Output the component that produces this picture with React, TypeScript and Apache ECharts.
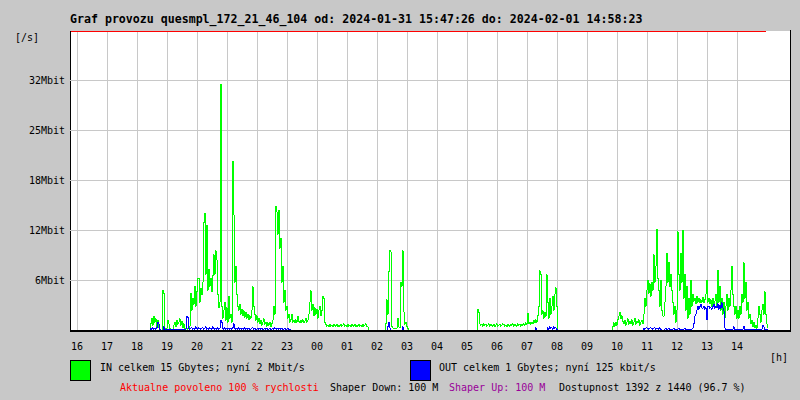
import React, { useEffect, useRef } from "react";
import * as echarts from "echarts";

// ---- data (Mbit/s), one sample every 2 minutes ----
const STEP_MIN = 2;
const xTickLabels = ["16","17","18","19","20","21","22","23","00","01","02","03","04","05","06","07","08","09","10","11","12","13","14"];
const yTickLabels = ["", "6Mbit", "12Mbit", "18Mbit", "25Mbit", "32Mbit", ""];
const Y_STEP = 6.25;
const Y_MAX = 37.5;
const RANGE_START = "15:46";
const DATA_END = "14:58";

const inEveningStart = "18:18";
const inEvening = [
  0,0,0,0,
  0.8,1.5,0.6,1.7,1.0,1.4,0.5,1.2,0.3,0.1,
  0,0,5.0,4.6,0.2,0,0.2,1.2,0.8,0.2,
  0.1,0.1,0.1,0.6,1.0,0.4,1.2,0.7,1.0,1.4,
  0.6,1.1,0.3,0.8,0.2,0.1,0.2,0.1,0.3,0.5,
  4.6,2.5,4.0,3.2,5.5,3.0,4.8,6.4,6.5,3.5,
  5.2,4.4,6.0,13.4,14.6,7.0,13.1,5.0,7.6,5.5,
  6.5,4.8,6.8,9.4,7.0,9.9,8.8,4.5,2.8,3.5,
  30.7,3.0,1.5,2.5,3.5,1.2,2.8,1.0,4.2,1.5,
  2.0,1.0,21.1,14.4,6.0,8.0,4.5,3.0,2.5,3.2,
  2.0,2.6,1.8,2.4,1.6,2.2,1.5,2.0,1.3,1.8,
  1.5,2.5,5.4,3.0,2.0,1.2,1.8,1.0,1.5,0.8,
  1.2,0.6,1.0,1.4,0.7,1.0,0.5,0.9,0.6,1.0,
  0.4,0.8,1.2,3.0,2.0,15.5,14.8,12.0,15.0,10.2,
  11.5,6.0,8.0,3.5,5.0,2.5,3.0,1.5,2.0,1.0,
  1.3,2.0,1.0,1.2,0.9,1.3,1.0,1.7,1.1,0.9,
  1.2,1.0,1.3,0.9,1.1,1.5,1.0,1.2,2.0,3.5,
  4.9,2.5,3.2,1.8,2.8,2.0,2.6,1.5,2.5,3.0,
  1.8,2.4,4.2,4.0,1.0,0.7,0.5,0.6,0.4,0.7,
  0.5,0.6,0.4,0.7,0.6,0.5,0.7,0.4,0.6,0.5,
  0.7,0.5,0.6,0.8,0.5,0.6,0.4,0.7,0.5,0.6,
  0.4,0.7,0.6,0.5,0.7,0.4,0.6,0.5,0.7,0.5,
  0.6,0.4,0.7,0.5,0.6,0.8,0.5,0.4,0,0,
  0,0,0,0,0,0,0,0,0,0,
  0,0,0,0,0,0.8,3.8,2.0,7.3,10.0,
  9.8,0.5,0.3,0.2,0.2,0.2,0.2,1.5,0.4,0.3,
  6.0,5.5,9.9,2.3,0.7,1.0,0.5,0.2,0,0,
  0,
];

const inMorningStart = "05:14";
const inMorning = [
  0,0,0,
  2.6,2.2,0.8,
  0.6,0.7,0.5,0.8,0.6,0.7,0.5,0.6,0.8,0.5,
  0.7,0.6,0.5,0.7,0.4,0.6,0.8,0.5,0.6,0.7,
  0.5,0.6,0.8,0.7,0.5,0.6,0.4,0.7,0.6,0.5,
  0.7,0.6,0.8,0.5,0.7,0.6,0.5,0.8,0.6,0.7,
  0.5,0.7,0.6,0.8,0.6,0.9,0.7,2.1,0.8,1.0,
  0.7,1.0,0.8,1.2,0.9,1.3,1.0,1.8,2.9,7.4,
  7.0,2.0,2.4,1.5,2.2,1.7,6.9,3.5,1.5,4.0,
  2.0,3.0,4.2,2.5,4.5,5.3,3.0,0,0,0,
];

const inDayStart = "09:46";
const inDay = [
  0,0,
  0.4,0.9,0.5,1.0,0.6,1.3,1.7,2.2,
  1.4,1.8,1.1,0.8,1.2,0.6,1.0,1.4,0.7,1.1,
  0.8,1.3,0.6,1.0,1.5,0.7,1.1,0.9,1.3,0.6,
  1.0,1.2,0.8,2.0,4.0,3.0,5.0,6.2,4.6,5.8,
  4.2,6.0,5.0,9.4,6.0,8.0,12.6,6.5,5.0,3.0,
  6.2,2.5,1.8,1.7,3.5,5.5,9.6,6.0,8.5,5.4,
  7.0,5.0,3.5,2.0,3.0,1.0,2.5,12.3,7.0,5.0,
  9.6,6.0,12.5,4.0,7.0,2.5,5.5,1.5,4.0,2.0,
  6.2,3.0,4.5,3.6,4.0,3.3,4.2,3.5,4.0,3.4,
  3.8,3.5,4.1,3.4,3.8,4.5,6.2,3.5,4.0,3.3,
  3.8,3.0,4.0,3.2,3.6,4.5,3.0,7.5,3.5,5.5,
  2.5,4.0,2.0,3.5,1.5,3.0,4.5,2.5,4.0,3.0,
  5.0,8.0,4.5,3.0,2.0,3.0,1.5,2.5,1.5,3.0,
  2.0,4.5,3.5,8.4,4.0,6.0,2.5,3.5,1.5,2.0,
  0.8,1.2,0.4,1.0,0.3,0.6,0.2,1.5,3.0,2.0,
  1.0,2.5,3.2,2.0,4.8,2.0,0.8,0.3,
];

const outEveningStart = "18:18";
const outEvening = [
  0,0,0,0,
  0.2,0.1,0.3,0.1,0.2,0.1,0.3,1.0,0.8,0.1,
  0,0,0,0.4,0.1,0,0.1,0,0.1,0,
  0.1,0,0.1,0,0.1,0.1,0,0.1,0,0.1,
  0,0.1,0,0.1,0,0.1,1.7,1.6,0.2,0.1,
  0.2,0.3,0.1,0.2,0.1,0.4,0.2,0.1,0.3,0.2,
  0.1,0.2,0.3,0.1,0.2,0.4,0.1,0.2,0.1,0.3,
  0.2,0.1,0.4,0.2,0.1,0.2,0.1,0.3,0.1,0.2,
  1.2,1.0,0.2,0.1,0.3,0.1,0.2,0.1,0.2,0.1,
  0.2,0.1,0.3,0.8,0.2,0.1,0.2,0.1,0.3,0.1,
  0.2,0.1,0.2,0.1,0.3,0.1,0.2,0.1,0.2,0.1,
  0.1,0.2,0.3,0.1,0.2,0.1,0.1,0.2,0.1,0.2,
  0.1,0.2,0.1,0.1,0.2,0.1,0.2,0.1,0.1,0.2,
  0.1,0.1,0.2,0.1,0.3,0.2,0.1,0.2,0.1,0.2,
  0.1,0.2,0.1,0.1,0.2,0.1,0.1,0.2,0.1,0.1,
  0,0,0,
];

const outNightStart = "02:14";
const outNight = [0,0,0,0.4,1.0,0.3,0,0,0,0,0,0,0,0,0,0,0,0,0.4,0,0,0];

const outMorningStart = "07:06";
const outMorning = [
  0,0,0,0,0,0.3,0,0,0,0,
  0,0,0,0,0,0,0,0.3,0.1,0.4,
  0.2,0.3,0.1,0.4,0.2,0.3,0.1,0,0,0,
];

const outDayStart = "10:46";
const outDay = [
  0,0,0,0.2,0.1,0.2,0.3,0.2,0.1,0.2,
  0.3,0.2,0.1,0.2,0.3,0.1,0.2,0.2,0.1,0.3,
  0.1,0,0,0,0.1,0.2,0.1,0.1,0.2,0.1,
  0.1,0.1,0.1,0.2,0.1,0.1,0.1,0.1,0.2,0.1,
  0.1,0.1,0.1,0.1,0.2,0.1,0.1,0.1,0.1,0.1,
  0.1,0.1,0.2,0.8,1.7,2.0,2.5,3.0,2.6,2.9,
  3.2,2.8,2.7,3.0,2.6,2.8,1.3,2.9,3.0,2.7,
  2.8,2.6,2.9,3.2,2.7,3.0,2.8,3.3,2.6,3.1,
  2.7,3.4,2.8,2.4,0.3,0.1,0.1,0.1,0.1,0.1,
  0.1,0.1,0.1,0.4,0.1,0.1,0.1,0.1,0.1,0.1,
  0.1,0.1,0.1,0.5,0.1,0.1,0.1,0.1,0.1,0.1,
  0.1,0.1,0.1,0.1,0.1,0.1,0.1,0.1,0.1,0.1,
  0.1,0.1,0.6,0.4,0.1,0.1,0.1,0,
];

const titleText = "Graf provozu quesmpl_172_21_46_104 od: 2024-01-31 15:47:26 do: 2024-02-01 14:58:23";
const inLegend = "IN celkem 15 Gbytes; nyní 2 Mbit/s";
const outLegend = "OUT celkem 1 Gbytes; nyní 125 kbit/s";
const footerParts = [
  { text: "Aktualne povoleno 100 % rychlosti", color: "#ff0000" },
  { text: "Shaper Down: 100 M", color: "#000000" },
  { text: "Shaper Up: 100 M", color: "#990099" },
  { text: "Dostupnost 1392 z 1440 (96.7 %)", color: "#000000" },
];

// minutes since 16:00 of the first day
function toMin(hhmm: string): number {
  const [h, m] = hhmm.split(":").map(Number);
  const hh = h < 16 ? h + 24 : h;
  return (hh - 16) * 60 + m;
}
function seg(start: string, values: number[]): number[][] {
  const t0 = toMin(start);
  return values.map((v, i) => [t0 + i * STEP_MIN, v]);
}

const FONT = '"DejaVu Sans Mono", monospace';

export default function App() {
  const ref = useRef<HTMLDivElement>(null);
  useEffect(() => {
    if (!ref.current) return;
    const chart = echarts.init(ref.current, null, { renderer: "svg" });
    const rs = toMin(RANGE_START);
    const xStart = rs > 1000 ? rs - 1440 : rs;
    const xEnd = xStart + 24 * 60;
    const tickValues = xTickLabels.map((_, i) => i * 60);
    const inData = [...seg(inEveningStart, inEvening), ...seg(inMorningStart, inMorning), ...seg(inDayStart, inDay)];
    const outData = [...seg(outEveningStart, outEvening), ...seg(outNightStart, outNight), ...seg(outMorningStart, outMorning), ...seg(outDayStart, outDay)];
    const GRID = { left: 70, top: 30, width: 720, height: 300 };
    const footerX = [120, 330, 449, 559];
    const footerGraphics = footerParts.map((p, i) => ({
      type: "text", x: footerX[i], y: 387, z: 100,
      style: { text: p.text, font: `10px ${FONT}`, fill: p.color, align: "left", verticalAlign: "middle" },
    }));
    chart.setOption({
      animation: false,
      backgroundColor: "#c8c8c8",
      grid: { ...GRID, show: true, backgroundColor: "#ffffff", borderColor: "#000000", borderWidth: 1 },
      xAxis: {
        type: "value", min: xStart, max: xEnd,
        axisLine: { show: false },
        axisTick: { show: false, customValues: tickValues },
        axisLabel: {
          customValues: tickValues, margin: 11, color: "#000", fontFamily: FONT, fontSize: 10,
          formatter: (v: number) => xTickLabels[Math.round(v / 60)] ?? "",
        },
        splitLine: { show: true, lineStyle: { color: "#c8c8c8", width: 1 } },
      },
      yAxis: {
        type: "value", min: 0, max: Y_MAX, interval: Y_STEP,
        axisLine: { show: false }, axisTick: { show: false },
        axisLabel: {
          margin: 5, color: "#000", fontFamily: FONT, fontSize: 10,
          formatter: (v: number) => yTickLabels[Math.round(v / Y_STEP)] ?? "",
        },
        splitLine: { show: true, lineStyle: { color: "#c8c8c8", width: 1 } },
      },
      series: [
        { type: "line", data: inData, step: "end", showSymbol: false, symbol: "none", lineStyle: { color: "#00ff00", width: 1 }, itemStyle: { color: "#00ff00" }, z: 2 },
        { type: "line", data: outData, step: "end", showSymbol: false, symbol: "none", lineStyle: { color: "#0000ff", width: 1 }, itemStyle: { color: "#0000ff" }, z: 3 },
      ],
    });
    const p0 = chart.convertToPixel({ xAxisIndex: 0, yAxisIndex: 0 }, [xStart, Y_MAX]) as number[];
    const p1 = chart.convertToPixel({ xAxisIndex: 0, yAxisIndex: 0 }, [toMin(DATA_END), Y_MAX]) as number[];
    const b0 = chart.convertToPixel({ xAxisIndex: 0, yAxisIndex: 0 }, [xStart, 0]) as number[];
    const b1 = chart.convertToPixel({ xAxisIndex: 0, yAxisIndex: 0 }, [xEnd, 0]) as number[];
    chart.setOption({
      graphic: [
        { type: "text", x: 70, y: 19, z: 100, style: { text: titleText, font: `bold 11.6px ${FONT}`, fill: "#000", align: "left", verticalAlign: "middle" } },
        { type: "text", x: 15, y: 37, z: 100, style: { text: "[/s]", font: `10px ${FONT}`, fill: "#000", align: "left", verticalAlign: "middle" } },
        { type: "text", x: 770, y: 357, z: 100, style: { text: "[h]", font: `10px ${FONT}`, fill: "#000", align: "left", verticalAlign: "middle" } },
        { type: "line", z: 100, shape: { x1: p0[0] + 1, y1: p0[1] + 1.5, x2: p1[0], y2: p1[1] + 1.5 }, style: { stroke: "#ff0000", lineWidth: 1 } },
        { type: "rect", z: 100, shape: { x: b0[0], y: b0[1], width: b1[0] - b0[0] + 1, height: 2 }, style: { fill: "#000000" } },
        { type: "rect", z: 100, shape: { x: 70.5, y: 360.5, width: 20, height: 20 }, style: { fill: "#00ff00", stroke: "#000", lineWidth: 1 } },
        { type: "text", x: 100, y: 367, z: 100, style: { text: inLegend, font: `10px ${FONT}`, fill: "#000", align: "left", verticalAlign: "middle" } },
        { type: "rect", z: 100, shape: { x: 410.5, y: 360.5, width: 20, height: 20 }, style: { fill: "#0000ff", stroke: "#000", lineWidth: 1 } },
        { type: "text", x: 439, y: 367, z: 100, style: { text: outLegend, font: `10px ${FONT}`, fill: "#000", align: "left", verticalAlign: "middle" } },
        ...footerGraphics,
      ],
    });
    const svg = ref.current.querySelector("svg");
    if (svg) svg.setAttribute("shape-rendering", "crispEdges");
    return () => chart.dispose();
  }, []);
  return <div ref={ref} style={{ position: "fixed", left: 0, top: 0, width: 800, height: 400 }} />;
}
